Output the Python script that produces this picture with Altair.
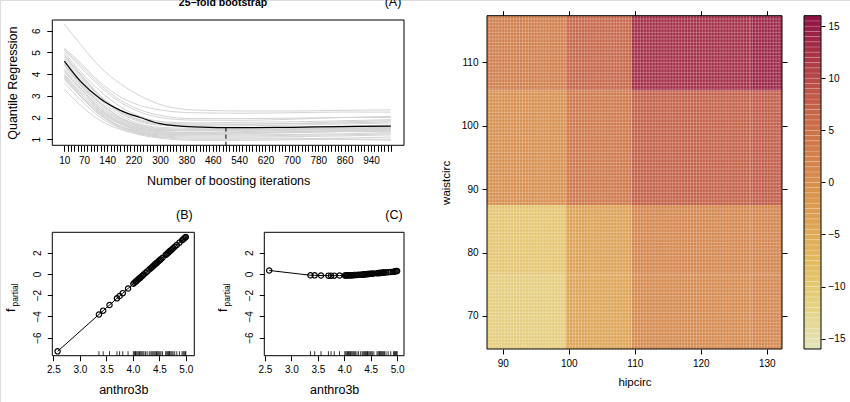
import altair as alt
import numpy as np
import pandas as pd

FONT = "Liberation Sans"
W, H = 850, 402

# ---------------- Panel (A): 25-fold bootstrap risk paths ----------------
iterations = [10, 60, 120, 180, 240, 300, 400, 550, 700, 850, 1000]
boot_risk = [
    [6.30, 5.35, 4.30, 3.55, 3.00, 2.60, 2.35, 2.30, 2.30, 2.33, 2.35],
    [5.20, 4.50, 3.60, 2.95, 2.55, 2.35, 2.22, 2.20, 2.22, 2.25, 2.25],
    [5.10, 4.30, 3.40, 2.70, 2.25, 2.00, 1.88, 1.87, 1.92, 2.00, 2.05],
    [5.00, 4.10, 3.20, 2.50, 2.05, 1.82, 1.75, 1.78, 1.80, 1.85, 1.90],
    [4.90, 4.00, 3.00, 2.30, 1.90, 1.75, 1.70, 1.70, 1.72, 1.75, 1.80],
    [4.80, 3.90, 2.90, 2.20, 1.80, 1.65, 1.60, 1.62, 1.65, 1.70, 1.75],
    [4.70, 3.80, 2.80, 2.10, 1.70, 1.55, 1.50, 1.50, 1.55, 1.60, 1.65],
    [4.60, 3.70, 2.70, 2.00, 1.60, 1.45, 1.40, 1.42, 1.45, 1.50, 1.55],
    [4.50, 3.60, 2.65, 2.00, 1.65, 1.50, 1.45, 1.45, 1.48, 1.50, 1.50],
    [4.40, 3.50, 2.50, 1.85, 1.50, 1.35, 1.30, 1.30, 1.33, 1.38, 1.40],
    [4.30, 3.45, 2.50, 1.90, 1.55, 1.40, 1.38, 1.40, 1.45, 1.50, 1.55],
    [4.20, 3.35, 2.40, 1.75, 1.40, 1.25, 1.20, 1.20, 1.22, 1.25, 1.30],
    [4.10, 3.30, 2.40, 1.80, 1.50, 1.40, 1.40, 1.45, 1.50, 1.55, 1.60],
    [4.00, 3.20, 2.30, 1.70, 1.35, 1.20, 1.15, 1.15, 1.18, 1.20, 1.25],
    [3.95, 3.10, 2.20, 1.60, 1.30, 1.15, 1.10, 1.10, 1.12, 1.15, 1.20],
    [3.90, 3.10, 2.25, 1.70, 1.45, 1.35, 1.30, 1.35, 1.40, 1.45, 1.50],
    [3.80, 3.00, 2.15, 1.60, 1.30, 1.10, 1.00, 1.00, 1.02, 1.05, 1.10],
    [3.75, 2.95, 2.10, 1.60, 1.35, 1.25, 1.25, 1.30, 1.35, 1.40, 1.45],
    [3.60, 2.80, 2.00, 1.50, 1.20, 1.05, 0.95, 0.95, 0.97, 1.00, 1.00],
    [3.30, 2.55, 1.85, 1.45, 1.25, 1.20, 1.20, 1.25, 1.30, 1.35, 1.40],
    [5.15, 4.40, 3.50, 2.80, 2.35, 2.10, 1.95, 1.95, 1.97, 2.00, 2.00],
    [4.85, 3.95, 2.95, 2.25, 1.85, 1.70, 1.65, 1.68, 1.72, 1.80, 1.85],
    [4.45, 3.55, 2.60, 1.95, 1.60, 1.45, 1.40, 1.40, 1.42, 1.45, 1.45],
    [4.15, 3.30, 2.35, 1.75, 1.45, 1.30, 1.28, 1.30, 1.32, 1.35, 1.35],
    [3.85, 3.00, 2.10, 1.55, 1.25, 1.10, 1.05, 1.05, 1.05, 1.00, 0.95],
]
mean_risk = [4.60, 3.65, 2.85, 2.33, 2.00, 1.72, 1.57, 1.53, 1.55, 1.58, 1.60]
mstop = [500]
mstop_risk = [1.53]
iter_tick_values = list(range(10, 1001, 10))
iter_tick_labels = [10, 70, 140, 220, 300, 380, 460, 540, 620, 700, 780, 860, 940]
risk_ticks = [1, 2, 3, 4, 5, 6]

# ---------------- Panels (B) and (C): partial effects of anthro3b ----------------
anthro3b = [2.58, 3.36, 3.44, 3.56, 3.70, 3.75, 3.81, 3.91, 4.01, 4.03, 4.05, 4.06,
            4.08, 4.10, 4.12, 4.13, 4.15, 4.17, 4.19, 4.21, 4.24, 4.27, 4.31, 4.34,
            4.36, 4.38, 4.40, 4.42, 4.44, 4.45, 4.47, 4.49, 4.51, 4.53, 4.56, 4.62,
            4.64, 4.66, 4.67, 4.69, 4.70, 4.72, 4.74, 4.76, 4.79, 4.83, 4.88, 4.93,
            4.95, 4.97, 4.99, 5.00]
f_partial_B = [-7.30, -3.82, -3.46, -2.93, -2.30, -2.08, -1.81, -1.37, -0.92, -0.83, -0.74, -0.70,
               -0.61, -0.52, -0.43, -0.39, -0.30, -0.21, -0.12, -0.03, 0.10, 0.24, 0.42, 0.55,
               0.64, 0.73, 0.82, 0.91, 1.00, 1.04, 1.13, 1.22, 1.31, 1.40, 1.53, 1.80,
               1.89, 1.98, 2.02, 2.11, 2.16, 2.24, 2.33, 2.42, 2.56, 2.74, 2.96, 3.18,
               3.27, 3.36, 3.45, 3.49]
f_partial_C = [0.33, -0.12, -0.13, -0.15, -0.16, -0.16, -0.16, -0.15, -0.14, -0.14, -0.13, -0.13,
               -0.13, -0.12, -0.12, -0.12, -0.11, -0.11, -0.10, -0.10, -0.09, -0.08, -0.07, -0.06,
               -0.05, -0.04, -0.03, -0.02, -0.01, -0.01, 0.00, 0.01, 0.02, 0.03, 0.04, 0.07,
               0.08, 0.09, 0.09, 0.10, 0.11, 0.12, 0.13, 0.14, 0.15, 0.17, 0.19, 0.22,
               0.23, 0.25, 0.27, 0.28]
rug_anthro3b = anthro3b[1:]          # rug marks visible in the reference start at 3.36
anthro_ticks = [2.5, 3.0, 3.5, 4.0, 4.5, 5.0]
fpart_ticks = [-6, -4, -2, 0, 2]

# ---------------- Panel (D): bivariate surface hipcirc x waistcirc ----------------
hipcirc_range = [87.6, 132.3]
waistcirc_range = [64.8, 117.3]
hip_breaks = [99.5, 109.5, 127.5]
waist_breaks = [76.5, 87.5, 105.5]
surface = [            # rows: waistcirc bands (low -> high), cols: hipcirc bands (left -> right)
    [-11.0, -4.0, 1.0, 1.5],
    [-9.5, -3.5, 1.5, 2.0],
    [0.0, 4.0, 7.5, 8.0],
    [3.0, 6.5, 13.0, 14.0],
]
grid_n = 100
hip_ticks = [90, 100, 110, 120, 130]
waist_ticks = [70, 80, 90, 100, 110]
color_ticks = [-15, -10, -5, 0, 5, 10, 15]
color_stops = [-16, -12, -8, -4, 0, 4, 8, 12, 16]
color_values = ["#E2E4BA", "#E5D385", "#E3BC62", "#DDA456", "#D78F4E",
                "#CE784A", "#C15C48", "#AB3647", "#8C0E42"]
colorbar_n = 64

# ---------------- layout (pixels) ----------------
A_box = (52.3, 404.0, 20.0, 145.3)      # left, right, top, bottom
B_box = (52.3, 194.3, 232.3, 355.7)
C_box = (264.3, 404.0, 232.3, 355.7)
D_box = (487.0, 782.0, 15.7, 349.0)
CB_box = (804.0, 821.0, 15.7, 349.0)

A_xdom, A_ydom = [-26.5, 1040.0], [0.72, 6.49]
B_xdom, C_xdom, BC_ydom = [2.48, 5.16], [2.487, 5.13], [-7.71, 3.93]
CB_dom = [-16, 16]


def sc(dom, box, axis):
    rng = [box[0], box[1]] if axis == "x" else [box[3], box[2]]
    return alt.Scale(domain=dom, range=rng, nice=False, zero=False)


def ax(orient, offset, values, **kw):
    base = dict(orient=orient, offset=offset, values=values, domain=False, grid=False,
                tickColor="black", tickWidth=1, labelColor="black", labelFont=FONT,
                titleFont=FONT, titleColor="black", titleFontWeight="normal",
                labelFlush=False, labelOverlap=False, labelFontSize=10)
    base.update(kw)
    return alt.Axis(**base)


def frame(xdom, ydom, xs, ys, xaxis=None, yaxis=None):
    df = pd.DataFrame({"x0": [xdom[0]], "x1": [xdom[1]], "y0": [ydom[0]], "y1": [ydom[1]]})
    return alt.Chart(df).mark_rect(fillOpacity=0, stroke="black", strokeWidth=1).encode(
        x=alt.X("x0:Q", scale=xs, axis=xaxis), x2="x1:Q",
        y=alt.Y("y0:Q", scale=ys, axis=yaxis), y2="y1:Q")


def label(text, x, y, size, angle=0, align="center", baseline="alphabetic", weight="normal"):
    return alt.Chart(pd.DataFrame({"t": [text]})).mark_text(
        font=FONT, fontSize=size, angle=angle, align=align, baseline=baseline,
        fontWeight=weight, color="black").encode(x=alt.value(x), y=alt.value(y), text="t:N")


layers = []

# ----- Panel A -----
Ax, Ay = sc(A_xdom, A_box, "x"), sc(A_ydom, A_box, "y")
boot_df = pd.DataFrame([{"curve": i, "iter": it, "risk": r}
                        for i, curve in enumerate(boot_risk) for it, r in zip(iterations, curve)])
label_expr = f"indexof({iter_tick_labels}, datum.value) >= 0 ? datum.label : ''"
layers.append(alt.Chart(boot_df).mark_line(color="#D3D3D3", strokeWidth=1, interpolate="monotone").encode(
    x=alt.X("iter:Q", scale=Ax, axis=ax("bottom", A_box[3] - H, iter_tick_values, tickSize=6,
                                        labelExpr=label_expr, labelPadding=4, format="d",
                                        title="Number of boosting iterations", titleFontSize=12.5,
                                        titlePadding=9)),
    y=alt.Y("risk:Q", scale=Ay, axis=ax("left", -A_box[0], risk_ticks, tickSize=5.5, labelAngle=270,
                                        labelAlign="center", labelBaseline="bottom", labelPadding=5,
                                        title="Quantile Regression", titleFontSize=12.5,
                                        titlePadding=12)),
    detail="curve:N"))
mean_df = pd.DataFrame({"iter": iterations, "risk": mean_risk})
layers.append(alt.Chart(mean_df).mark_line(color="black", strokeWidth=1.2, interpolate="monotone").encode(
    x=alt.X("iter:Q", scale=Ax, axis=None), y=alt.Y("risk:Q", scale=Ay, axis=None)))
ms_df = pd.DataFrame({"iter": mstop, "risk": mstop_risk, "base": [A_ydom[0]]})
layers.append(alt.Chart(ms_df).mark_rule(color="black", strokeDash=[4, 3], strokeWidth=1).encode(
    x=alt.X("iter:Q", scale=Ax, axis=None), y=alt.Y("risk:Q", scale=Ay, axis=None), y2="base:Q"))
layers.append(frame(A_xdom, A_ydom, Ax, Ay))
layers.append(label("25\u2212fold bootstrap", 223, 6, 10.5, weight="bold"))
layers.append(label("(A)", 393, 6, 12.5))


# ----- Panels B and C -----
def partial_panel(box, xdom, yvals, name):
    xs, ys = sc(xdom, box, "x"), sc(BC_ydom, box, "y")
    df = pd.DataFrame({"anthro3b": anthro3b, "f": yvals})
    rug = pd.DataFrame({"anthro3b": rug_anthro3b})
    out = []
    out.append(alt.Chart(df).mark_line(color="black", strokeWidth=1).encode(
        x=alt.X("anthro3b:Q", scale=xs, axis=None), y=alt.Y("f:Q", scale=ys, axis=None)))
    out.append(alt.Chart(df).mark_point(shape="circle", filled=False, color="black", size=28,
                                        strokeWidth=1.2, opacity=1).encode(
        x=alt.X("anthro3b:Q", scale=xs,
                axis=ax("bottom", box[3] - H, anthro_ticks, tickSize=5, format=".1f", labelPadding=4,
                        title="anthro3b", titleFontSize=12.5, titlePadding=9)),
        y=alt.Y("f:Q", scale=ys,
                axis=ax("left", -box[0], fpart_ticks, tickSize=5, labelAngle=270, labelAlign="center",
                        labelBaseline="bottom", labelPadding=5, title=None))))
    out.append(alt.Chart(rug).mark_rule(color="black", strokeWidth=0.8).encode(
        x=alt.X("anthro3b:Q", scale=xs, axis=None), y=alt.value(box[3] - 4.5), y2=alt.value(box[3])))
    out.append(frame(xdom, BC_ydom, xs, ys))
    cx = box[0] - 40
    out.append(label("f", cx + 3, 312, 12.5, angle=270, align="left"))
    out.append(label("partial", cx + 5.5, 306.5, 8.5, angle=270, align="left"))
    out.append(label(name, box[1] - 10, 219, 12.5))
    return out


layers += partial_panel(B_box, B_xdom, f_partial_B, "(B)")
layers += partial_panel(C_box, C_xdom, f_partial_C, "(C)")

# ----- Panel D -----
Dx, Dy = sc(hipcirc_range, D_box, "x"), sc(waistcirc_range, D_box, "y")
hx = [hipcirc_range[0]] + hip_breaks + [hipcirc_range[1]]
wy = [waistcirc_range[0]] + waist_breaks + [waistcirc_range[1]]
blocks = pd.DataFrame([{"h0": hx[c], "h1": hx[c + 1], "w0": wy[r], "w1": wy[r + 1], "value": surface[r][c]}
                       for r in range(len(wy) - 1) for c in range(len(hx) - 1)])
color_scale = alt.Scale(domain=color_stops, range=color_values, interpolate="lab")
layers.append(alt.Chart(blocks).mark_rect(strokeWidth=0).encode(
    x=alt.X("h0:Q", scale=Dx, axis=ax("bottom", D_box[3] - H, hip_ticks, tickSize=5, labelPadding=4,
                                      title="hipcirc", titleFontSize=11.5, titlePadding=8)),
    x2="h1:Q",
    y=alt.Y("w0:Q", scale=Dy, axis=ax("left", -D_box[0], waist_ticks, tickSize=5, labelPadding=4,
                                      title="waistcirc", titleFontSize=11.5, titlePadding=10)),
    y2="w1:Q",
    color=alt.Color("value:Q", scale=color_scale, legend=None)))
hip_grid = np.linspace(hipcirc_range[0], hipcirc_range[1], grid_n + 1)
waist_grid = np.linspace(waistcirc_range[0], waistcirc_range[1], grid_n + 1)
vgrid = pd.DataFrame({"h": hip_grid, "w0": waistcirc_range[0], "w1": waistcirc_range[1]})
hgrid = pd.DataFrame({"w": waist_grid, "h0": hipcirc_range[0], "h1": hipcirc_range[1]})
layers.append(alt.Chart(vgrid).mark_rule(color="white", strokeOpacity=0.33, strokeWidth=0.8).encode(
    x=alt.X("h:Q", scale=Dx, axis=None), y=alt.Y("w0:Q", scale=Dy, axis=None), y2="w1:Q"))
layers.append(alt.Chart(hgrid).mark_rule(color="white", strokeOpacity=0.33, strokeWidth=0.8).encode(
    y=alt.Y("w:Q", scale=Dy, axis=None), x=alt.X("h0:Q", scale=Dx, axis=None), x2="h1:Q"))
layers.append(frame(hipcirc_range, waistcirc_range, Dx, Dy,
                    xaxis=ax("top", -D_box[2], hip_ticks, tickSize=5, labels=False, title=None),
                    yaxis=ax("right", -(W - D_box[1]), waist_ticks, tickSize=5, labels=False, title=None)))

# colour key
CBy = sc(CB_dom, CB_box, "y")
cb_edges = np.linspace(CB_dom[0], CB_dom[1], colorbar_n + 1)
cb_df = pd.DataFrame({"lo": cb_edges[:-1], "hi": cb_edges[1:], "mid": (cb_edges[:-1] + cb_edges[1:]) / 2})
layers.append(alt.Chart(cb_df).mark_rect(stroke="white", strokeOpacity=0.25, strokeWidth=0.6).encode(
    x=alt.value(CB_box[0]), x2=alt.value(CB_box[1]),
    y=alt.Y("lo:Q", scale=CBy, axis=ax("right", -(W - CB_box[1]), color_ticks, tickSize=4,
                                      labelPadding=3, title=None)),
    y2="hi:Q",
    color=alt.Color("mid:Q", scale=color_scale, legend=None)))
cbf = pd.DataFrame({"lo": [CB_dom[0]], "hi": [CB_dom[1]]})
layers.append(alt.Chart(cbf).mark_rect(fillOpacity=0, stroke="black", strokeWidth=1).encode(
    x=alt.value(CB_box[0]), x2=alt.value(CB_box[1]),
    y=alt.Y("lo:Q", scale=CBy, axis=None), y2="hi:Q"))

chart = alt.layer(*layers).resolve_scale(x="independent", y="independent").properties(
    width=W, height=H, padding=0, autosize=alt.AutoSizeParams(type="none")
).configure_view(strokeWidth=0).configure(background="white")

chart.save("out.html", embed_options={"renderer": "svg", "actions": False})
